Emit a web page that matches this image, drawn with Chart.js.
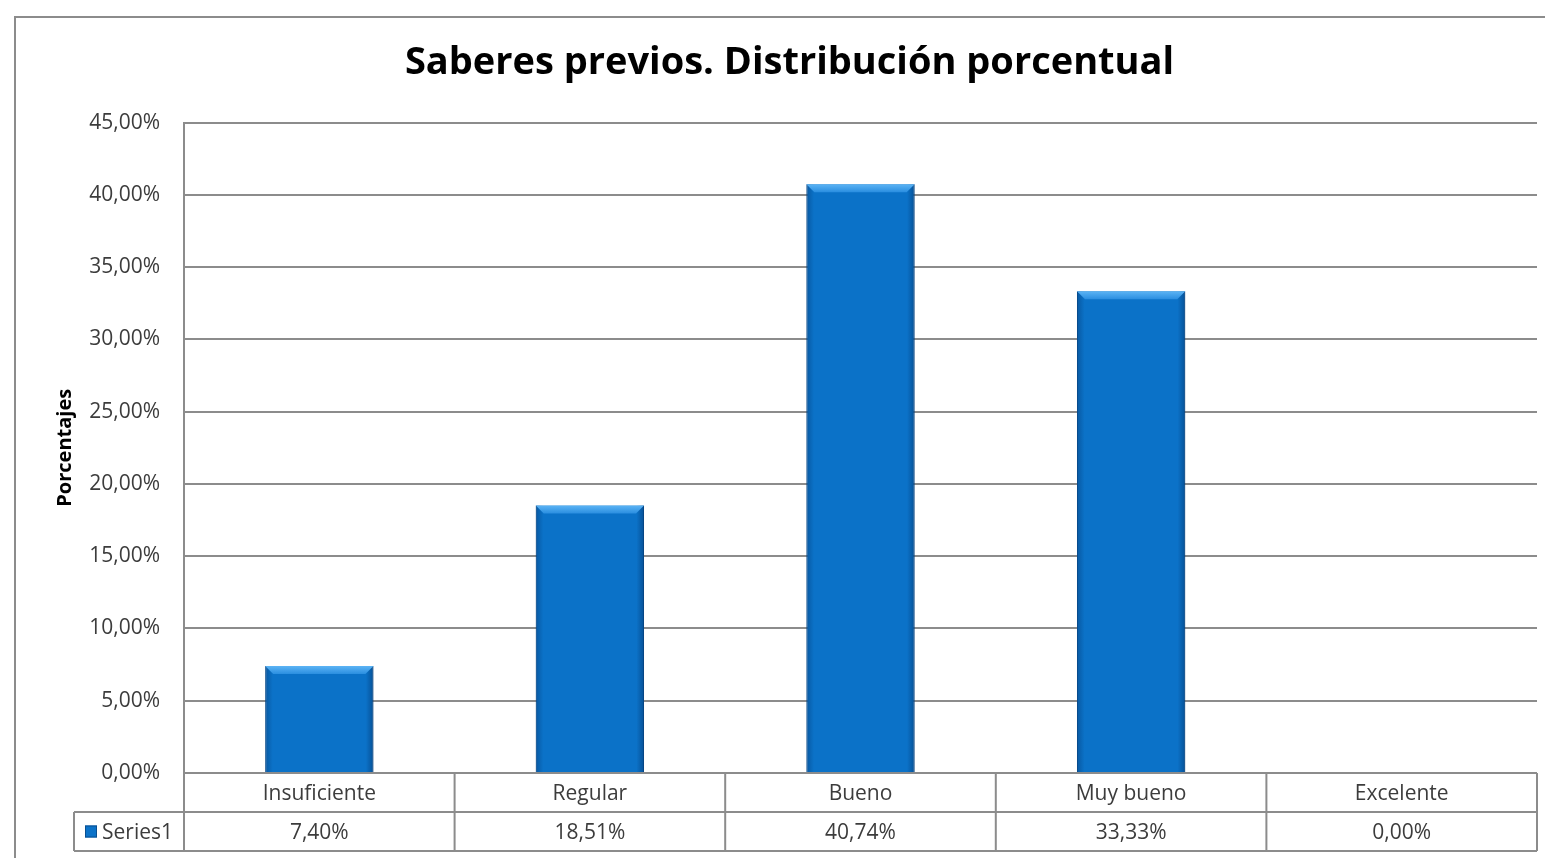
<!DOCTYPE html>
<html>
<head>
<meta charset="utf-8">
<script src="https://cdn.jsdelivr.net/npm/chart.js@4/dist/chart.umd.min.js"></script>
<style>
  html, body { margin: 0; padding: 0; background: #fff; }
  #wrap { position: relative; width: 1545px; height: 858px; }
</style>
</head>
<body>
<div id="wrap"><canvas id="c" width="1545" height="858"></canvas></div>
<script>
const categories = ['Insuficiente', 'Regular', 'Bueno', 'Muy bueno', 'Excelente'];
const seriesName = 'Series1';
const values = [7.40, 18.51, 40.74, 33.33, 0.00];
const titleText = 'Saberes previos. Distribución porcentual';
const yAxisTitle = 'Porcentajes';
const yMin = 0, yMax = 45, yStep = 5;

const FONT = '"Open Sans", "Liberation Sans", sans-serif';
const GRID = '#8c8c8c';
const TEXT = '#3c3c3c';
const BLUE = '#0b72c8';

function fmtPct(v) {
  return v.toFixed(2).replace('.', ',') + '%';
}

const frameAndTable = {
  id: 'frameAndTable',
  afterDatasetsDraw(chart) {
    const ctx = chart.ctx;
    const meta = chart.getDatasetMeta(0);
    ctx.save();
    meta.data.forEach(bar => {
      const p = bar.getProps(['x', 'y', 'base', 'width'], true);
      const h = p.base - p.y;
      if (h <= 1) return;
      const l = p.x - p.width / 2, r = p.x + p.width / 2;
      const g = ctx.createLinearGradient(l, 0, r, 0);
      g.addColorStop(0, 'rgba(0,40,90,0.35)');
      g.addColorStop(0.07, 'rgba(0,40,90,0)');
      g.addColorStop(0.93, 'rgba(0,40,90,0)');
      g.addColorStop(1, 'rgba(0,40,90,0.45)');
      ctx.fillStyle = g;
      ctx.fillRect(l, p.y, p.width, h);
      const b = Math.min(8, h / 2);
      ctx.beginPath();
      ctx.moveTo(l, p.y);
      ctx.lineTo(r, p.y);
      ctx.lineTo(r - b, p.y + b);
      ctx.lineTo(l + b, p.y + b);
      ctx.closePath();
      const tg = ctx.createLinearGradient(0, p.y, 0, p.y + b);
      tg.addColorStop(0, '#5cb4f5');
      tg.addColorStop(1, '#2a8ee0');
      ctx.fillStyle = tg;
      ctx.fill();
    });
    ctx.restore();
  },
  afterDraw(chart) {
    const ctx = chart.ctx;
    const area = chart.chartArea;
    const n = categories.length;
    const cw = (area.right - area.left) / n;
    const rowH = 39;
    const r1 = area.bottom, r2 = r1 + rowH, r3 = r2 + rowH;
    const legLeft = 74;
    ctx.save();
    ctx.strokeStyle = GRID;
    ctx.lineWidth = 2;
    ctx.beginPath();
    ctx.moveTo(15, chart.height + 5);
    ctx.lineTo(15, 17);
    ctx.lineTo(chart.width + 5, 17);
    ctx.stroke();
    ctx.beginPath();
    ctx.moveTo(area.left, r1); ctx.lineTo(area.right, r1);
    ctx.moveTo(legLeft, r2); ctx.lineTo(area.right, r2);
    ctx.moveTo(legLeft, r3); ctx.lineTo(area.right, r3);
    ctx.moveTo(legLeft, r2); ctx.lineTo(legLeft, r3);
    for (let i = 0; i <= n; i++) {
      const x = area.left + i * cw;
      ctx.moveTo(x, r1); ctx.lineTo(x, r3);
    }
    ctx.stroke();
    ctx.fillStyle = TEXT;
    ctx.font = '21px ' + FONT;
    ctx.textAlign = 'center';
    ctx.textBaseline = 'middle';
    for (let i = 0; i < n; i++) {
      const cx = area.left + (i + 0.5) * cw;
      ctx.fillText(categories[i], cx, (r1 + r2) / 2 + 2);
      ctx.fillText(fmtPct(values[i]), cx, (r2 + r3) / 2 + 2);
    }
    const ky = (r2 + r3) / 2;
    ctx.fillStyle = BLUE;
    ctx.fillRect(85, ky - 6, 12, 12);
    ctx.strokeStyle = '#0a4f8f';
    ctx.lineWidth = 1;
    ctx.strokeRect(85.5, ky - 5.5, 11, 11);
    ctx.fillStyle = TEXT;
    ctx.textAlign = 'left';
    ctx.fillText(seriesName, 102, ky + 2);
    ctx.restore();
  }
};

new Chart(document.getElementById('c'), {
  type: 'bar',
  data: {
    labels: categories,
    datasets: [{
      label: seriesName,
      data: values,
      backgroundColor: BLUE,
      borderColor: '#0a5ba3',
      borderWidth: 1,
      borderSkipped: 'bottom',
      barPercentage: 0.4,
      categoryPercentage: 1.0
    }]
  },
  options: {
    responsive: false,
    animation: false,
    events: [],
    layout: { padding: { left: 42, right: 8, top: 0, bottom: 85 } },
    plugins: {
      legend: { display: false },
      tooltip: { enabled: false },
      title: {
        display: true,
        text: titleText,
        color: '#000',
        font: { family: FONT, size: 38, weight: 'bold' },
        padding: { top: 40, bottom: 37 }
      }
    },
    scales: {
      x: {
        display: false,
        grid: { display: false }
      },
      y: {
        min: yMin,
        max: yMax,
        afterFit(scale) { scale.width = 142; },
        ticks: {
          stepSize: yStep,
          padding: 24,
          color: TEXT,
          font: { family: FONT, size: 21 },
          callback: v => fmtPct(v)
        },
        grid: { color: GRID, lineWidth: 2, drawTicks: false },
        border: { display: true, color: GRID, width: 2 },
        title: {
          display: true,
          text: yAxisTitle,
          color: '#000',
          font: { family: FONT, size: 20, weight: 'bold' },
          padding: { top: 11, bottom: 0 }
        }
      }
    }
  },
  plugins: [frameAndTable]
});
</script>
</body>
</html>
